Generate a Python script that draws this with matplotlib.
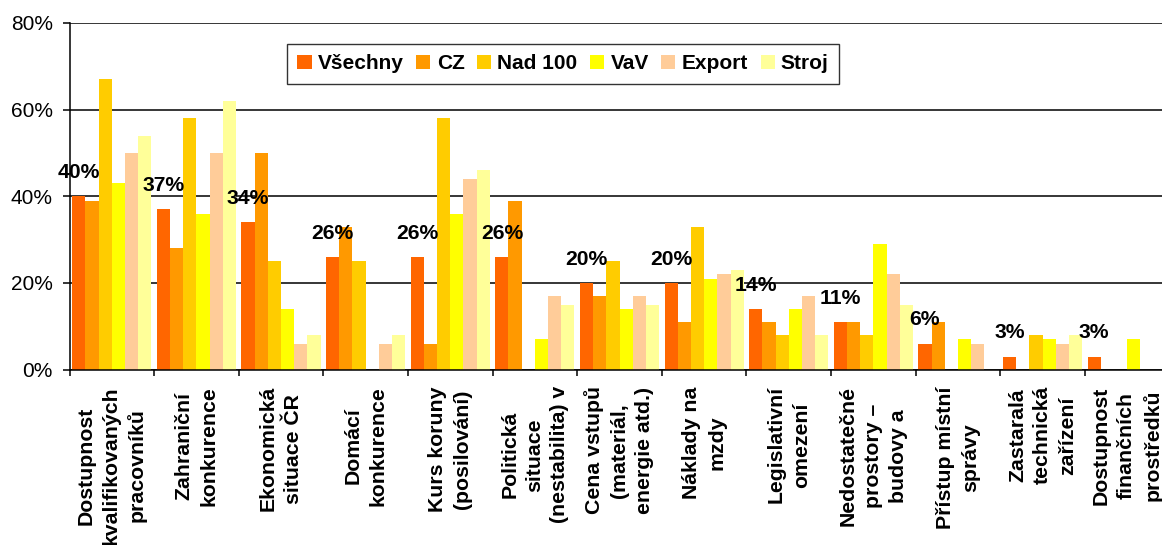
#!/usr/bin/env python
# -*- coding: utf-8 -*-
# bariéry rozvoje firem - sloupcový graf podle skupin

import numpy as np
import matplotlib
matplotlib.use('Agg')
import matplotlib.pyplot as plt

categories = [
    "Dostupnost\nkvalifikovaných\npracovníků",
    "Zahraniční\nkonkurence",
    "Ekonomická\nsituace ČR",
    "Domácí\nkonkurence",
    "Kurs koruny\n(posilování)",
    "Politická\nsituace\n(nestabilita) v",
    "Cena vstupů\n(materiál,\nenergie atd.)",
    "Náklady na\nmzdy",
    "Legislativní\nomezení",
    "Nedostatečné\nprostory –\nbudovy a",
    "Přístup místní\nsprávy",
    "Zastaralá\ntechnická\nzařízení",
    "Dostupnost\nfinančních\nprostředků",
]

series_names = ["Všechny", "CZ", "Nad 100", "VaV", "Export", "Stroj"]

vsechny = [40, 37, 34, 26, 26, 26, 20, 20, 14, 11, 6, 3, 3]
cz      = [39, 28, 50, 33, 6, 39, 17, 11, 11, 11, 11, 0, 0]
nad100  = [67, 58, 25, 25, 58, 0, 25, 33, 8, 8, 0, 8, 0]
vav     = [43, 36, 14, 0, 36, 7, 14, 21, 14, 29, 7, 7, 7]
export  = [50, 50, 6, 6, 44, 17, 17, 22, 17, 22, 6, 6, 0]
stroj   = [54, 62, 8, 8, 46, 15, 15, 23, 8, 15, 0, 8, 0]

colors = ['#FF6600', '#FF9900', '#FFCC00', '#FFFF00', '#FFCC99', '#FFFF99']


def main():
    plt.rcParams['font.family'] = ['Liberation Sans', 'DejaVu Sans']
    W, H = 1162, 545
    fig = plt.figure(figsize=(W / 100, H / 100), dpi=100)
    # plocha grafu presahuje vpravo za okraj obrazku (jako v originale)
    left, right, top, bottom = 69.5, 1169.5, 23, 369.5
    ax = fig.add_axes([left / W, 1 - bottom / H, (right - left) / W, (bottom - top) / H])

    data = [vsechny, cz, nad100, vav, export, stroj]
    n = len(categories)
    x = np.arange(n)
    w = 0.156
    offset = (1 - 6 * w) / 2
    bars = []
    for j, (vals, name) in enumerate(zip(data, series_names)):
        b = ax.bar(x + offset + j * w + w / 2, vals, width=w, color=colors[j],
                   label=name, zorder=2, linewidth=0)
        bars.append(b)

    # popisky hodnot nad sloupci "Všechny"
    for i, v in enumerate(vsechny):
        ax.annotate("%d%%" % v, xy=(x[i] + offset + w / 2, v), xytext=(0, 17),
                    textcoords='offset points', ha='center', va='center',
                    fontsize=15.2, fontweight='bold', zorder=5)

    ax.set_xlim(0, n)
    ax.set_ylim(0, 80)
    ax.set_yticks([0, 20, 40, 60, 80])
    ax.set_yticklabels(["0%", "20%", "40%", "60%", "80%"], fontsize=15)
    ax.tick_params(axis='y', direction='out', length=5, width=1.1, pad=7)

    ax.set_xticks(np.arange(n + 1))
    ax.set_xticklabels([])
    ax.tick_params(axis='x', which='major', direction='out', length=4.5, width=1.1)
    ax.set_xticks(x + 0.5, minor=True)
    ax.set_xticklabels(categories, minor=True, rotation=90, fontsize=15.3,
                       fontweight='bold', ha='center', va='top',
                       multialignment='center', linespacing=1.4)
    ax.tick_params(axis='x', which='minor', length=0, pad=12)

    ax.yaxis.grid(True, color='black', linewidth=1.1)
    ax.set_axisbelow(True)
    ax.spines['top'].set_visible(False)
    ax.spines['right'].set_visible(False)
    ax.spines['left'].set_linewidth(1.1)
    ax.spines['bottom'].set_linewidth(1.1)
    ax.spines['bottom'].set_zorder(3)

    leg = fig.legend(handles=bars, labels=series_names, loc='upper left',
                     bbox_to_anchor=(287 / W, 1 - 44 / H), ncol=6,
                     prop={'weight': 'bold', 'size': 15}, frameon=True,
                     fancybox=False, edgecolor='black', borderaxespad=0,
                     handlelength=0.68, handleheight=0.68, handletextpad=0.3,
                     columnspacing=0.6, borderpad=0.5)
    leg.get_frame().set_linewidth(1.0)

    fig.savefig('out.png', dpi=100)


if __name__ == '__main__':
    main()
